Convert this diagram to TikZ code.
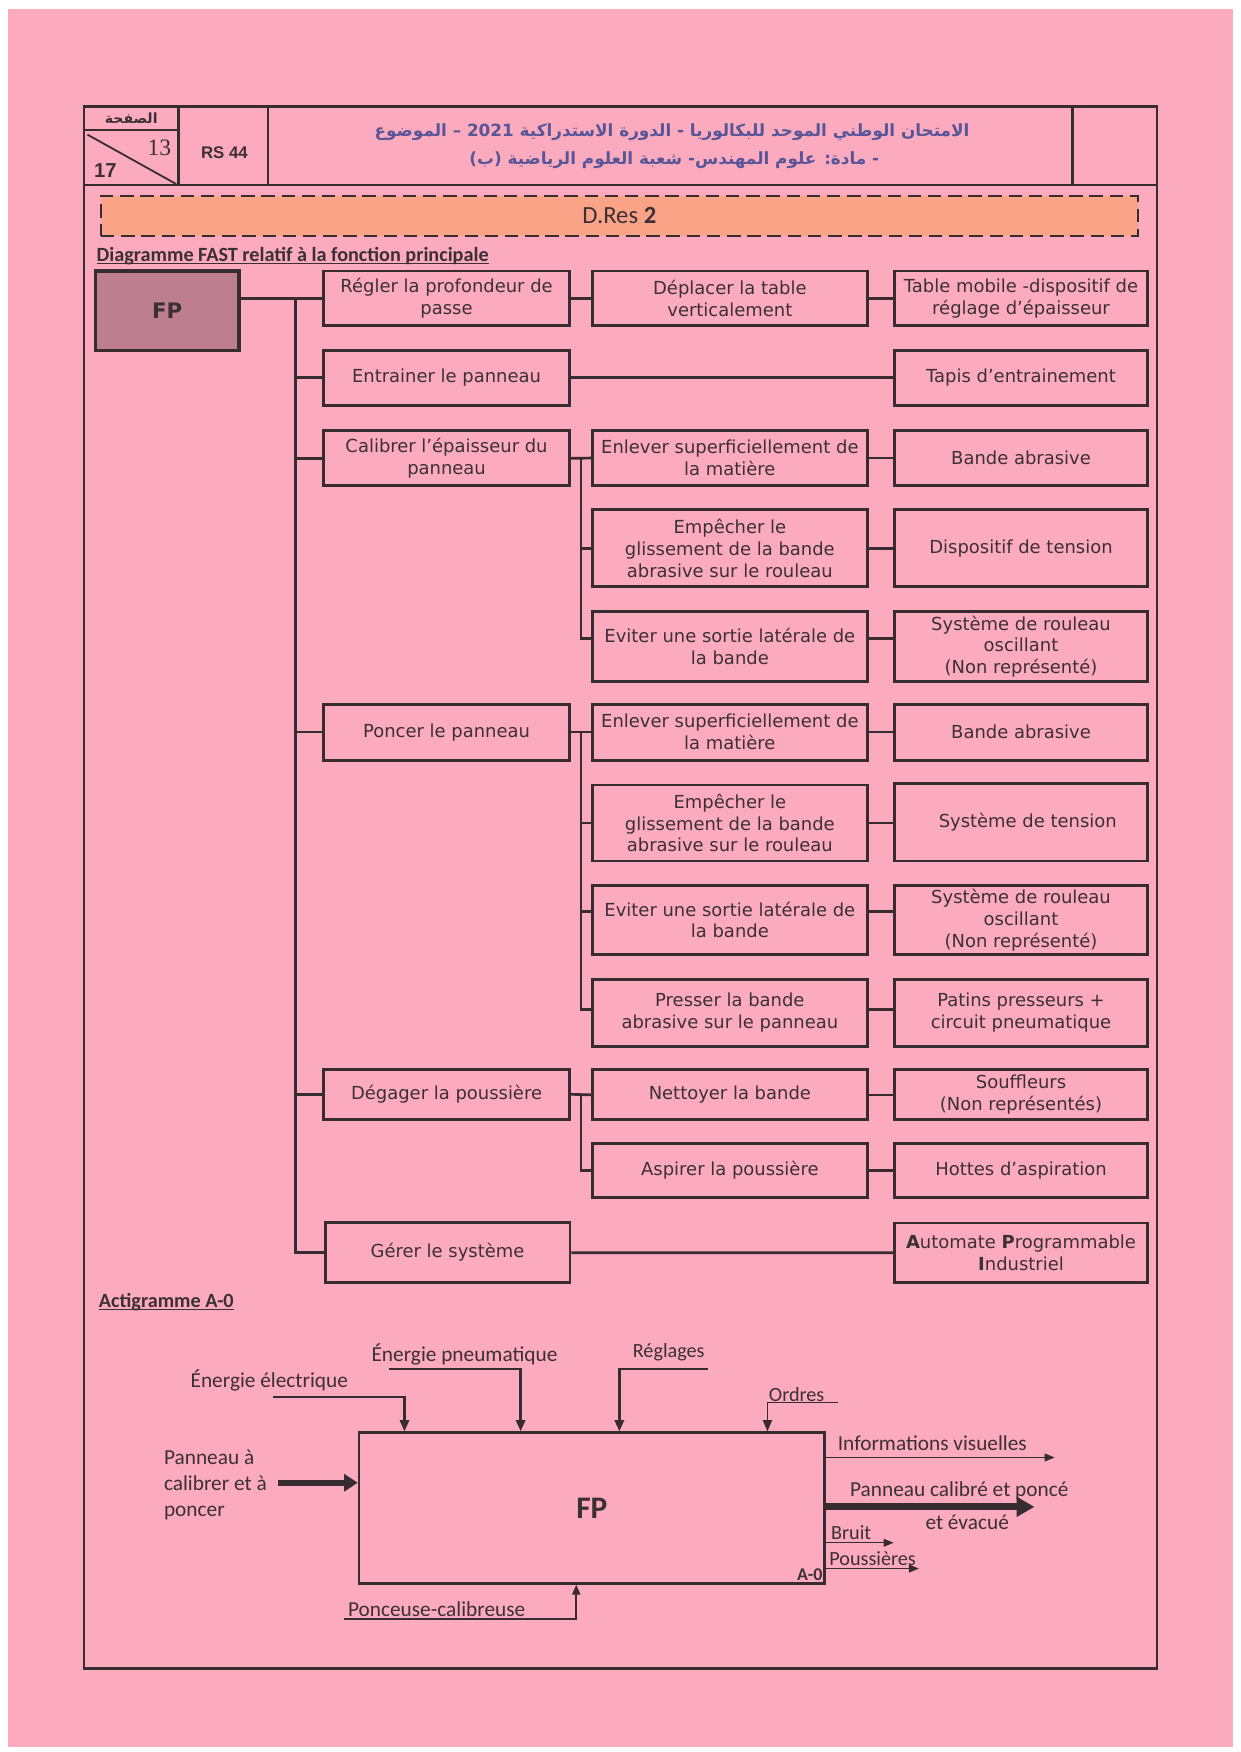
\documentclass[tikz,border=0pt]{standalone}
\usepackage{fontspec}
\setmainfont{DejaVu Sans}
\newfontfamily\calfont{Carlito}
\newfontfamily\arialfont{Liberation Sans}
\newfontfamily\timesfont{Liberation Serif}
\newfontfamily\arabicfont[Script=Arabic]{DejaVu Sans}
\TeXXeTstate=1
\usetikzlibrary{arrows.meta,calc}
\definecolor{pagepink}{RGB}{252,170,190}
\definecolor{fpfill}{RGB}{190,126,146}
\definecolor{dresfill}{RGB}{250,163,135}
\definecolor{ink}{RGB}{56,44,48}
\definecolor{txt}{RGB}{60,48,52}
\definecolor{arblue}{RGB}{88,86,152}
\newlength\ulw
\newcommand\myul[1]{\settowidth\ulw{#1}\rlap{\rule[-2.6pt]{\ulw}{1.3pt}}#1}
\newcommand\fbx[6]{\node[fbox,minimum width={(#4)-(#2)},minimum height={(#5)-(#3)}] (#1) at ({((#2)+(#4))/2},{((#3)+(#5))/2}) {#6};}
\begin{document}
\begin{tikzpicture}[x=1pt,y=-1pt,
  fbox/.style={draw=ink,line width=2.6pt,align=center,text=txt,inner sep=0pt,font=\fontsize{16}{19.5}\selectfont},
  conn/.style={draw=ink,line width=2.4pt},
  frame/.style={draw=ink,line width=2.2pt},
  lab/.style={text=txt,inner sep=0pt,font=\calfont\fontsize{19}{23.5}\selectfont},
  slab/.style={text=txt,inner sep=0pt,font=\calfont\fontsize{18}{22}\selectfont},
  inarr/.style={draw=ink,line width=2.4pt,-{Triangle[length=10pt,width=8pt]}},
  thinarr/.style={draw=ink,line width=1.3pt,-{Triangle[length=9pt,width=7pt]}},
  thickin/.style={draw=ink,line width=5.5pt,-{Triangle[length=12pt,width=15pt]}},
  thickout/.style={draw=ink,line width=6pt,-{Triangle[length=16pt,width=17pt]}}]
\useasboundingbox (0,0) rectangle (1105.2,1561.5);
\fill[white] (0,0) rectangle (1105.2,1561.5);
\fill[pagepink] (7,8) rectangle (1099,1557);
% frame and header
\draw[frame] (75,95) rectangle (1031,1487);
\draw[frame] (75,165) -- (1031,165);
\draw[frame] (159,95) -- (159,165);
\draw[frame] (239,95) -- (239,165);
\draw[frame] (956,95) -- (956,165);
\draw[frame] (75,116) -- (159,116);
\draw[ink,line width=1.6pt] (78,120) -- (157,164);
\node[text=txt,inner sep=0pt,font=\arabicfont\bfseries\fontsize{12.5}{12.5}\selectfont] (pg) at (117,105) {\beginR الصفحة\endR};
\node[text=txt,inner sep=0pt,font=\timesfont\fontsize{21}{21}\selectfont] (p13) at (142,132) {13};
\node[text=txt,inner sep=0pt,font=\arialfont\bfseries\fontsize{18}{18}\selectfont] (p17) at (94,152) {17};
\node[text=txt,inner sep=0pt,font=\arialfont\bfseries\fontsize{15}{15}\selectfont] (rs) at (200,136) {RS 44};
\node[text=arblue,inner sep=0pt,font=\arabicfont\bfseries\fontsize{15}{15}\selectfont] (ar1) at (599,118) {\beginR الامتحان الوطني الموحد للبكالوريا - الدورة الاستدراكية \beginL2021\endL{} – الموضوع\endR};
\node[text=arblue,inner sep=0pt,font=\arabicfont\bfseries\fontsize{15}{15}\selectfont] (ar2) at (601,143) {\beginR - مادة: علوم المهندس- شعبة العلوم الرياضية (ب)\endR};
% D.Res
\node[draw=ink,line width=2pt,dash pattern=on 12pt off 6pt,fill=dresfill,minimum width=924,minimum height=35,inner sep=0pt,text=txt,font=\calfont\fontsize{22}{22}\selectfont] (dres) at (552,192.5) {D.Res \textbf{2}};
\node[anchor=base west,inner sep=0pt,text=txt,font=\calfont\bfseries\fontsize{18}{18}\selectfont] (ttl) at (86,233) {\myul{Diagramme FAST relatif à la fonction principale}};
% FAST
\node[draw=ink,line width=2.8pt,fill=fpfill,minimum width=128,minimum height=70.5,inner sep=0pt,text=txt,font=\bfseries\fontsize{19}{19}\selectfont] (fp) at (149,276.75) {FP};
\fbx{reg}{288.5}{241.5}{507.5}{290.5}{Régler la profondeur de\\passe}
\fbx{ent}{288.5}{312}{507.5}{361}{Entrainer le panneau}
\fbx{cal}{288.5}{384}{507.5}{433}{Calibrer l’épaisseur du\\panneau}
\fbx{pon}{288.5}{627.5}{507.5}{677.4}{Poncer le panneau}
\fbx{deg}{288.5}{953}{507.5}{997.6}{Dégager la poussière}
\fbx{ger}{289.7}{1089.7}{508}{1143.2}{Gérer le système}
\fbx{dep}{528}{241.5}{773}{290.5}{Déplacer la table\\verticalement}
\fbx{en1}{528}{383.5}{773}{433}{Enlever superficiellement de\\la matière}
\fbx{em1}{528}{454.5}{773}{523}{Empêcher le\\glissement de la bande\\abrasive sur le rouleau}
\fbx{ev1}{528}{545}{773}{607.6}{Eviter une sortie latérale de\\la bande}
\fbx{en2}{528}{627.5}{773}{677.4}{Enlever superficiellement de\\la matière}
\fbx{em2}{528}{699.6}{773}{767.4}{Empêcher le\\glissement de la bande\\abrasive sur le rouleau}
\fbx{ev2}{528}{788.8}{773}{851}{Eviter une sortie latérale de\\la bande}
\fbx{pre}{528}{872.8}{773}{932.3}{Presser la bande\\abrasive sur le panneau}
\fbx{net}{528}{953.6}{773}{998}{Nettoyer la bande}
\fbx{asp}{528}{1019}{773}{1067}{Aspirer la poussière}
\fbx{tab}{797}{241.5}{1023}{290.5}{Table mobile -dispositif de\\réglage d’épaisseur}
\fbx{tap}{797}{312}{1023}{361}{Tapis d’entrainement}
\fbx{ba1}{797}{383.5}{1023}{433}{Bande abrasive}
\fbx{dis}{797}{454.5}{1023}{523}{Dispositif de tension}
\fbx{sr1}{797}{545}{1023}{607.6}{Système de rouleau\\oscillant\\(Non représenté)}
\fbx{ba2}{797}{627.5}{1023}{677.4}{Bande abrasive}
\fbx{st2}{797}{698}{1023}{767.4}{\hspace*{12pt}Système de tension}
\fbx{sr2}{797}{788.8}{1023}{851}{Système de rouleau\\oscillant\\(Non représenté)}
\fbx{pat}{797}{872.8}{1023}{932.3}{Patins presseurs +\\circuit pneumatique}
\fbx{sou}{797}{953.6}{1023}{998}{Souffleurs\\(Non représentés)}
\fbx{hot}{797}{1019}{1023}{1067}{Hottes d’aspiration}
\fbx{api}{797}{1090}{1023}{1143}{\textbf{A}utomate \textbf{P}rogrammable\\\textbf{I}ndustriel}
% trunk
\coordinate (t0) at (263.5,266);
\draw[conn] (fp.east |- reg.west) -- (reg.west);
\draw[conn] (t0) |- (ger.west);
\foreach \n in {ent,cal,pon,deg} {\draw[conn] (t0 |- \n.west) -- (\n.west);}
% level 2
\draw[conn] (reg.east) -- (dep.west);
\draw[conn] (dep.east) -- (tab.west);
\draw[conn] (ent.east) -- (tap.west);
\draw[conn] (ger.east) -- (api.west);
\coordinate (j3) at ($(cal.east)!0.5!(en1.west)$);
\draw[conn] (cal.east) -- (en1.west);
\draw[conn] (j3) |- (em1.west);
\draw[conn] (j3) |- ([yshift=7.5pt]ev1.west);
\coordinate (j4) at ($(pon.east)!0.5!(en2.west)$);
\draw[conn] (pon.east) -- (en2.west);
\draw[conn] (j4) |- (em2.west);
\draw[conn] (j4) |- ([yshift=7.5pt]ev2.west);
\draw[conn] (j4) |- ([yshift=3pt]pre.west);
\coordinate (j5) at ($(deg.east)!0.5!(net.west)$);
\draw[conn] (deg.east) -- (net.west);
\draw[conn] (j5) |- (asp.west);
% level 3
\draw[conn] (en1.east) -- (ba1.west);
\draw[conn] (em1.east) -- (dis.west);
\draw[conn] ([yshift=7.5pt]ev1.east) -- ([yshift=7.5pt]sr1.west);
\draw[conn] (en2.east) -- (ba2.west);
\draw[conn] (em2.east) -- (st2.west |- em2.east);
\draw[conn] ([yshift=7.5pt]ev2.east) -- ([yshift=7.5pt]sr2.west);
\draw[conn] ([yshift=3pt]pre.east) -- ([yshift=3pt]pat.west);
\draw[conn] (net.east) -- (sou.west);
\draw[conn] (asp.east) -- (hot.west);
% Actigramme
\node[anchor=base west,inner sep=0pt,text=txt,font=\calfont\bfseries\fontsize{18}{18}\selectfont] (act) at (88,1165) {\myul{Actigramme A-0}};
\node[draw=ink,line width=2.4pt,minimum width=415,minimum height=134,inner sep=0pt,text=txt,font=\calfont\bfseries\fontsize{28}{28}\selectfont] (a0) at (527.5,1344) {FP};
\node[anchor=south east,inner sep=3pt,text=txt,font=\calfont\bfseries\fontsize{16}{16}\selectfont] (a0l) at (a0.south east) {A-0};
\node[lab] (lee) at (240,1230) {Énergie électrique};
\node[lab] (lep) at (414,1207) {Énergie pneumatique};
\node[slab] (lre) at (596,1205) {Réglages};
\node[slab] (lor) at (710,1243) {Ordres};
\coordinate (ee0) at (243,1245); \coordinate (ee1) at (360.5,1245);
\coordinate (ep0) at (347,1220); \coordinate (ep1) at (464,1220);
\coordinate (re0) at (631,1220); \coordinate (re1) at (552,1220);
\coordinate (or0) at (746.5,1250); \coordinate (or1) at (684,1250);
\draw[inarr] (ee0) -- (ee1) -- (ee1 |- a0.north);
\draw[inarr] (ep0) -- (ep1) -- (ep1 |- a0.north);
\draw[inarr] (re0) -- (re1) -- (re1 |- a0.north);
\draw[draw=ink,line width=1.6pt,-{Triangle[length=10pt,width=8pt]}] (or0) -- (or1) -- (or1 |- a0.north);
\node[lab,anchor=west,align=left] (lpa) at (146,1323.5) {Panneau à\\calibrer et à\\poncer};
\coordinate (pin) at (248,1321.5);
\draw[thickin] (pin) -- (pin -| a0.west);
\node[lab,anchor=west] (liv) at (746.5,1286) {Informations visuelles};
\coordinate (iv) at (940,1299);
\draw[thinarr] (iv -| a0.east) -- (iv);
\node[lab,anchor=west] (lpc) at (757.5,1329) {Panneau calibré et poncé};
\node[lab] (lev) at (862,1357) {et évacué};
\coordinate (pc) at (922,1343);
\draw[thickout] (pc -| a0.east) -- (pc);
\node[slab,anchor=west] (lbr) at (740.6,1366) {Bruit};
\coordinate (br) at (796.5,1375);
\draw[thinarr] (br -| a0.east) -- (br);
\node[slab,anchor=west] (lpo) at (739,1389) {Poussières};
\coordinate (po) at (819,1398);
\draw[thinarr] (po -| a0.east) -- (po);
\node[lab,anchor=west] (lpon) at (310,1434) {Ponceuse-calibreuse};
\coordinate (pn0) at (307,1443); \coordinate (pn1) at (513.6,1443);
\draw[draw=ink,line width=2pt,-{Triangle[length=9pt,width=7pt]}] (pn0) -- (pn1) -- (pn1 |- a0.south);
\end{tikzpicture}
\end{document}
